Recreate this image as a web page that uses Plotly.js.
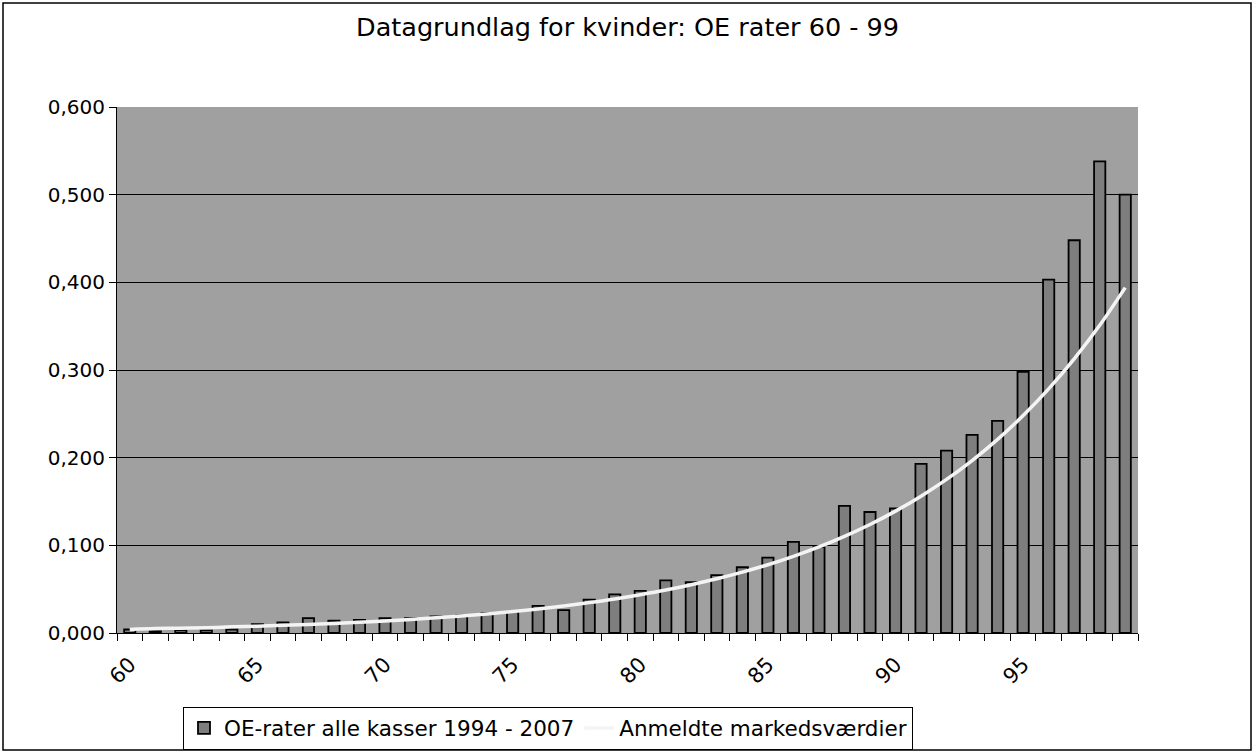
<!DOCTYPE html>
<html>
<head>
<meta charset="utf-8">
<script src="https://cdn.plot.ly/plotly-3.0.1.min.js"></script>
<style>
  html, body { margin: 0; padding: 0; background: #ffffff; }
  #chart { width: 1257px; height: 753px; }
</style>
</head>
<body>
<div id="chart"></div>
<script>
// Ages (categories)
const ages = [60,61,62,63,64,65,66,67,68,69,70,71,72,73,74,75,76,77,78,79,
              80,81,82,83,84,85,86,87,88,89,90,91,92,93,94,95,96,97,98,99];

// OE-rater alle kasser 1994 - 2007 (bars)
const oeRates = [0.004,0.002,0.003,0.003,0.004,0.010,0.012,0.017,0.014,0.015,
                 0.017,0.017,0.019,0.020,0.023,0.024,0.031,0.026,0.038,0.044,
                 0.048,0.060,0.058,0.066,0.075,0.086,0.104,0.098,0.145,0.138,
                 0.142,0.193,0.208,0.226,0.242,0.298,0.403,0.448,0.538,0.500];

// Anmeldte markedsværdier (white line)
const marketValues = [0.004,0.005,0.0055,0.006,0.007,0.0077,0.0087,0.0097,0.0109,0.0122,
                      0.0137,0.0154,0.0173,0.0194,0.0218,0.0245,0.0275,0.0309,0.0347,0.0389,
                      0.0437,0.049,0.0551,0.0618,0.0694,0.0779,0.0875,0.0982,0.1103,0.1238,
                      0.139,0.1561,0.1752,0.1967,0.2209,0.248,0.2784,0.3126,0.351,0.394];

// Tick labels
const tickVals = [60,65,70,75,80,85,90,95];
const tickText = ['60','65','70','75','80','85','90','95'];

const FONT = 'DejaVu Sans, Verdana, sans-serif';

const traces = [
  {
    type: 'bar',
    name: 'OE-rater alle kasser 1994 - 2007',
    x: ages,
    y: oeRates,
    width: 0.44,
    marker: { color: '#7e7e7e', line: { color: '#000000', width: 1.8 } }
  },
  {
    type: 'scatter',
    mode: 'lines',
    name: 'Anmeldte markedsværdier',
    x: ages,
    y: marketValues,
    line: { color: '#f4f4f4', width: 3.5, shape: 'spline' }
  }
];

// frame geometry in paper units
const L = 117, R = 1138, T = 107, B = 633;
const pw = R - L, ph = B - T;
const px = v => (v - L) / pw;
const py = v => (B - v) / ph;

const layout = {
  width: 1257,
  height: 753,
  separators: ',.',
  paper_bgcolor: '#ffffff',
  plot_bgcolor: '#a0a0a0',
  margin: { l: L, r: 1257 - R, t: T, b: 753 - B, pad: 0, autoexpand: false },
  font: { family: FONT, size: 20, color: '#000000' },
  title: {
    text: 'Datagrundlag for kvinder: OE rater 60 - 99',
    font: { family: FONT, size: 25.5, color: '#000000' },
    x: 0.5, xanchor: 'center',
    y: 1 - 27 / 753, yanchor: 'middle', xref: 'paper'
  },
  bargap: 0,
  showlegend: true,
  legend: {
    orientation: 'h',
    x: px(548), xanchor: 'center',
    y: py(728), yanchor: 'middle',
    bgcolor: '#ffffff',
    bordercolor: '#000000',
    borderwidth: 1,
    font: { family: FONT, size: 21.5, color: '#000000' },
    itemwidth: 30,
    tracegroupgap: 0
  },
  xaxis: {
    type: 'linear',
    range: [59.5, 99.5],
    tickmode: 'array',
    tickvals: tickVals,
    ticktext: tickText,
    tickangle: -45,
    ticks: '',
    ticklabelstandoff: 10,
    showgrid: false,
    zeroline: false,
    showline: true,
    linecolor: '#000000',
    linewidth: 1,
    tickfont: { family: FONT, size: 21, color: '#000000' },
    minor: {
      tickmode: 'linear',
      tick0: 59.5,
      dtick: 1,
      ticks: 'outside',
      ticklen: 7,
      tickwidth: 1,
      tickcolor: '#000000',
      showgrid: false
    },
    fixedrange: true
  },
  yaxis: {
    range: [0, 0.6],
    tickmode: 'linear',
    tick0: 0,
    dtick: 0.1,
    tickformat: '.3f',
    ticks: 'outside',
    ticklen: 7,
    tickcolor: '#000000',
    showgrid: true,
    gridcolor: '#000000',
    gridwidth: 1,
    zeroline: false,
    showline: true,
    linecolor: '#000000',
    linewidth: 1,
    tickfont: { family: FONT, size: 20, color: '#000000' },
    fixedrange: true
  },
  shapes: [
    {
      type: 'rect', xref: 'paper', yref: 'paper', layer: 'above',
      x0: px(3), x1: px(1251), y0: py(750), y1: py(3),
      line: { color: '#000000', width: 1.5 }, fillcolor: 'rgba(0,0,0,0)'
    }
  ]
};

Plotly.newPlot('chart', traces, layout, { displayModeBar: false, staticPlot: true });
</script>
</body>
</html>
